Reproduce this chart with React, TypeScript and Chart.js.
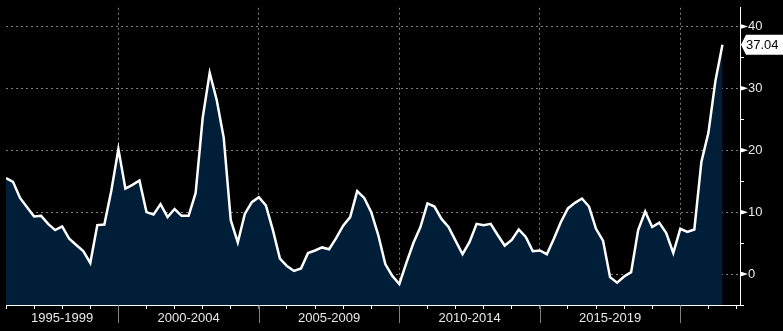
import React, { useEffect, useRef } from 'react';
import { Chart, registerables } from 'chart.js';

Chart.register(...registerables);

// Quarterly series, first point = 1996 Q1
const startYear = 1996;
const quarterStep = 0.25;
const values = [
  15.5, 14.9, 12.3, 10.8, 9.3, 9.4, 8.1, 7.1, 7.7, 5.7,
  4.7, 3.7, 1.8, 7.9, 8.0, 13.5, 20.2, 13.8, 14.4, 15.1,
  10.0, 9.6, 11.3, 9.2, 10.5, 9.4, 9.4, 13.1, 25.2, 32.5,
  28.1, 22.0, 8.7, 5.1, 9.7, 11.6, 12.4, 11.1, 7.1, 2.5,
  1.3, 0.5, 0.9, 3.4, 3.8, 4.3, 4.0, 5.8, 7.8, 9.2,
  13.4, 12.3, 10.0, 6.3, 1.6, -0.3, -1.6, 1.8, 5.0, 7.6,
  11.4, 10.9, 8.9, 7.6, 5.4, 3.2, 5.2, 8.1, 7.9, 8.1,
  6.3, 4.6, 5.5, 7.2, 6.0, 3.7, 3.8, 3.2, 5.7, 8.4,
  10.6, 11.5, 12.2, 10.9, 7.3, 5.4, -0.5, -1.4, -0.4, 0.3,
  7.1, 10.1, 7.6, 8.3, 6.6, 3.4, 7.3, 6.8, 7.2, 18.1,
  22.8, 31.2, 37.04,
];

const periodLabels = ['1995-1999', '2000-2004', '2005-2009', '2010-2014', '2015-2019'];
const periodCenters = [1998, 2002.5, 2007.5, 2012.5, 2017.5];
const periodBoundaries = [2000, 2005, 2010, 2015, 2020];
const yearTicks = [
  1996, 1997, 1998, 1999, 2000, 2001, 2002, 2003, 2004, 2005, 2006, 2007, 2008,
  2009, 2010, 2011, 2012, 2013, 2014, 2015, 2016, 2017, 2018, 2019, 2020, 2021, 2022,
];
const yTicks = [-5, 0, 5, 10, 15, 20, 25, 30, 35, 40];

const X_MIN = 1996;
const X_MAX = 2022.125;
const Y_MIN = -5;
const Y_MAX = 43;

const GRID = 'rgba(140,140,140,0.9)';
const TEXT = '#e8e8e8';
const FILL = '#011e38';
const FONT_FAMILY = "'Liberation Sans', Arial, sans-serif";

const decorPlugin = {
  id: 'decor',
  afterDraw(chart: any) {
    const ctx = chart.ctx as CanvasRenderingContext2D;
    const xs = chart.scales.x;
    const ys = chart.scales.y;
    const area = chart.chartArea;
    ctx.save();
    // period separators below the axis
    ctx.strokeStyle = GRID;
    ctx.lineWidth = 1;
    for (const b of periodBoundaries) {
      const px = Math.round(xs.getPixelForValue(b)) + 0.5;
      ctx.beginPath();
      ctx.moveTo(px, area.bottom);
      ctx.lineTo(px, area.bottom + 18);
      ctx.stroke();
    }
    // y axis tick marks: triangles for major, short lines for minor
    ctx.fillStyle = '#ffffff';
    ctx.strokeStyle = '#ffffff';
    for (const v of yTicks) {
      const py = ys.getPixelForValue(v);
      const ax = area.right;
      if (v % 10 === 0) {
        ctx.beginPath();
        ctx.moveTo(ax, py - 2);
        ctx.lineTo(ax + 2, py - 2);
        ctx.lineTo(ax + 8, py);
        ctx.lineTo(ax + 2, py + 2);
        ctx.lineTo(ax, py + 2);
        ctx.closePath();
        ctx.fill();
      } else {
        ctx.beginPath();
        ctx.moveTo(ax, Math.round(py) + 0.5);
        ctx.lineTo(ax + 4, Math.round(py) + 0.5);
        ctx.stroke();
      }
    }
    // last value callout
    const last = values[values.length - 1];
    const cy = ys.getPixelForValue(last);
    const lx = area.right + 1;
    ctx.fillStyle = '#ffffff';
    ctx.beginPath();
    ctx.moveTo(lx, cy);
    ctx.lineTo(lx + 5, cy - 10);
    ctx.lineTo(chart.width, cy - 10);
    ctx.lineTo(chart.width, cy + 10);
    ctx.lineTo(lx + 5, cy + 10);
    ctx.closePath();
    ctx.fill();
    ctx.fillStyle = '#000000';
    ctx.font = `13px ${FONT_FAMILY}`;
    ctx.textBaseline = 'middle';
    ctx.textAlign = 'left';
    ctx.fillText(last.toFixed(2), lx + 5, cy + 1);
    ctx.restore();
  },
};

export default function App() {
  const canvasRef = useRef<HTMLCanvasElement | null>(null);

  useEffect(() => {
    document.body.style.margin = '0';
    document.body.style.background = '#000';
    const canvas = canvasRef.current;
    if (!canvas) return;
    const data = values.map((v, i) => ({ x: startYear + i * quarterStep, y: v }));
    const chart = new Chart(canvas, {
      type: 'line',
      data: {
        datasets: [
          {
            data,
            borderColor: '#ffffff',
            borderWidth: 2.5,
            backgroundColor: FILL,
            fill: 'start',
            pointRadius: 0,
            tension: 0,
            xAxisID: 'x',
            yAxisID: 'y',
          },
        ],
      },
      options: {
        animation: false,
        responsive: false,
        maintainAspectRatio: false,
        layout: { padding: { left: 6, top: 0, right: 0, bottom: 0 } },
        plugins: { legend: { display: false }, tooltip: { enabled: false } },
        scales: {
          x: {
            type: 'linear',
            position: 'bottom',
            min: X_MIN,
            max: X_MAX,
            weight: 0,
            afterBuildTicks: (s: any) => {
              s.ticks = yearTicks.map((v) => ({ value: v }));
            },
            afterFit: (s: any) => {
              s.height = 4;
            },
            ticks: { display: false, autoSkip: false },
            grid: {
              color: (c: any) => (c.tick && c.tick.value % 5 === 0 ? GRID : 'rgba(0,0,0,0)'),
              tickColor: (c: any) => (c.tick && c.tick.value % 5 === 0 ? GRID : '#ffffff'),
              tickLength: 4,
              lineWidth: 1,
            },
            border: { display: true, color: '#ffffff', width: 1, dash: [2, 3] },
          },
          xLabels: {
            type: 'linear',
            position: 'bottom',
            min: X_MIN,
            max: X_MAX,
            weight: 1,
            afterBuildTicks: (s: any) => {
              s.ticks = periodCenters.map((v) => ({ value: v }));
            },
            afterFit: (s: any) => {
              s.height = 22;
            },
            ticks: {
              autoSkip: false,
              maxRotation: 0,
              padding: 2,
              color: TEXT,
              font: { family: FONT_FAMILY, size: 13 },
              callback: (_v: any, i: number) => periodLabels[i],
            },
            grid: { display: false, drawTicks: false },
            border: { display: false },
          },
          y: {
            type: 'linear',
            position: 'right',
            min: Y_MIN,
            max: Y_MAX,
            afterBuildTicks: (s: any) => {
              s.ticks = yTicks.map((v) => ({ value: v }));
            },
            afterFit: (s: any) => {
              s.width = 43;
            },
            ticks: {
              autoSkip: false,
              padding: 0,
              color: TEXT,
              font: { family: FONT_FAMILY, size: 13 },
              callback: (v: any) => (Number(v) % 10 === 0 ? String(v) : ''),
            },
            grid: {
              color: (c: any) => (c.tick && c.tick.value % 10 === 0 ? GRID : 'rgba(0,0,0,0)'),
              tickColor: 'rgba(0,0,0,0)',
              tickLength: 8,
              lineWidth: 1,
            },
            border: { display: true, color: '#ffffff', width: 1, dash: [2, 3] },
          },
        },
      },
      plugins: [decorPlugin],
    });
    return () => chart.destroy();
  }, []);

  return (
    <div style={{ width: 783, height: 331, background: '#000' }}>
      <canvas ref={canvasRef} width={783} height={331} style={{ display: 'block' }} />
    </div>
  );
}
